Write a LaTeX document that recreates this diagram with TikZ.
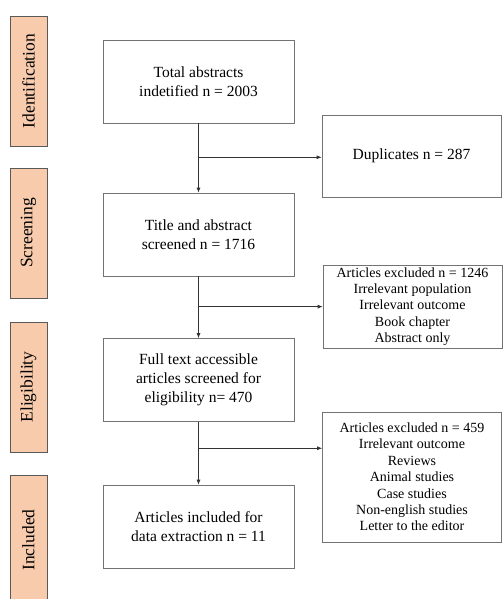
\documentclass[tikz,border=0pt]{standalone}
\usepackage{fontspec}
\setmainfont{Liberation Serif}
\usetikzlibrary{arrows.meta,positioning,calc}
\definecolor{peach}{RGB}{248,203,173}

\begin{document}
\begin{tikzpicture}[x=1pt,y=-1pt,on grid,line width=0.7pt,
  >={Latex[length=5pt,width=4pt]},
  stage/.style={draw=black!65,fill=peach,rotate=90,minimum width=130pt,minimum height=37pt,inner sep=0pt,font=\fontsize{17.5}{20}\selectfont},
  flow/.style={draw=black!55,minimum width=191pt,minimum height=83pt,align=center,inner sep=2pt,font=\fontsize{15.5}{19}\selectfont},
  excl/.style={draw=black!55,minimum width=179pt,align=center,inner sep=2pt,font=\fontsize{14}{16.4}\selectfont}]
\useasboundingbox (0,0) rectangle (503,599);
% stages
\node[stage] (ident) at (28.5,81) {Identification};
\node[stage] (screen) [below=152pt of ident] {Screening};
\node[stage] (elig) [below=154pt of screen] {Eligibility};
\node[stage] (incl) [below=153pt of elig] {Included};
% main flow
\node[flow] (total) at (198.5,81.5) {Total abstracts\\indetified n = 2003};
\node[flow] (title) [below=153pt of total] {Title and abstract\\screened n = 1716};
\node[flow] (full) [below=145.5pt of title] {Full text accessible\\articles screened for\\eligibility n= 470};
\node[flow] (final) [below=146.5pt of full] {Articles included for\\data extraction n = 11};
% excluded
\node[excl,minimum height=82pt,font=\fontsize{15.5}{19}\selectfont] (dup) at (411.5,156) {Duplicates n = 287};
\node[excl,minimum height=83pt] (excl1) at (412.5,306.5) {Articles excluded n = 1246\\Irrelevant population\\Irrelevant outcome\\Book chapter\\Abstract only};
\node[excl,minimum height=130pt] (excl2) at (412,477) {Articles excluded n = 459\\Irrelevant outcome\\Reviews\\Animal studies\\Case studies\\Non-english studies\\Letter to the editor};
% arrows
\coordinate (s1) at ($(total.south)!0.49!(title.north)$);
\coordinate (s2) at ($(title.south)!0.49!(full.north)$);
\coordinate (s3) at ($(full.south)!0.42!(final.north)$);
\draw[->,black!80] (total) -- (title);
\draw[->,black!80] (title) -- (full);
\draw[->,black!80] (full) -- (final);
\draw[->,black!80] (s1) -- (s1 -| dup.west);
\draw[->,black!80] (s2) -- (s2 -| excl1.west);
\draw[->,black!80] (s3) -- (s3 -| excl2.west);
\end{tikzpicture}
\end{document}
